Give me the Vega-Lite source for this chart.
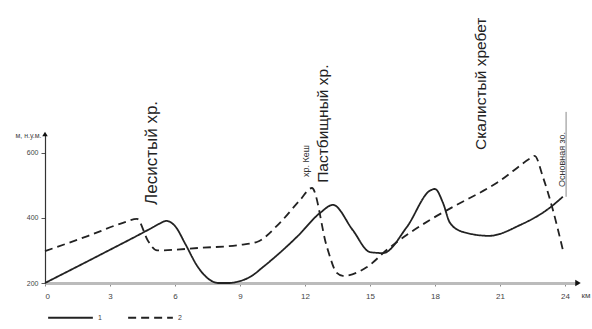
{
  "$schema": "https://vega.github.io/schema/vega-lite/v6.json",
  "autosize": "none",
  "width": 533,
  "height": 149,
  "padding": {"left": 45, "top": 134, "right": 14, "bottom": 46},
  "background": "white",
  "config": {"font": "Liberation Sans", "view": {"stroke": null}},
  "datasets": {
    "profile": [
      {"km": 0, "m": 200, "series": "1"},
      {"km": 2.5, "m": 285, "series": "1"},
      {"km": 5.0, "m": 372, "series": "1"},
      {"km": 5.3, "m": 383, "series": "1"},
      {"km": 5.6, "m": 391, "series": "1"},
      {"km": 6.0, "m": 375, "series": "1"},
      {"km": 6.5, "m": 317, "series": "1"},
      {"km": 7.0, "m": 255, "series": "1"},
      {"km": 7.5, "m": 215, "series": "1"},
      {"km": 8.0, "m": 200, "series": "1"},
      {"km": 8.5, "m": 200, "series": "1"},
      {"km": 9.0, "m": 206, "series": "1"},
      {"km": 9.5, "m": 220, "series": "1"},
      {"km": 10.06, "m": 249, "series": "1"},
      {"km": 11.63, "m": 342, "series": "1"},
      {"km": 12.69, "m": 415, "series": "1"},
      {"km": 13.29, "m": 440, "series": "1"},
      {"km": 14.2, "m": 363, "series": "1"},
      {"km": 15.0, "m": 295, "series": "1"},
      {"km": 15.6, "m": 292, "series": "1"},
      {"km": 16.7, "m": 372, "series": "1"},
      {"km": 17.77, "m": 484, "series": "1"},
      {"km": 18.0, "m": 489, "series": "1"},
      {"km": 18.37, "m": 446, "series": "1"},
      {"km": 18.69, "m": 385, "series": "1"},
      {"km": 19.29, "m": 357, "series": "1"},
      {"km": 20.5, "m": 345, "series": "1"},
      {"km": 21.92, "m": 378, "series": "1"},
      {"km": 23.17, "m": 425, "series": "1"},
      {"km": 23.9, "m": 465, "series": "1"},
      {"km": 0, "m": 298, "series": "2"},
      {"km": 2.0, "m": 345, "series": "2"},
      {"km": 3.6, "m": 385, "series": "2"},
      {"km": 4.25, "m": 397, "series": "2"},
      {"km": 4.75, "m": 330, "series": "2"},
      {"km": 5.17, "m": 300, "series": "2"},
      {"km": 7.15, "m": 308, "series": "2"},
      {"km": 9.0, "m": 317, "series": "2"},
      {"km": 9.78, "m": 326, "series": "2"},
      {"km": 10.84, "m": 385, "series": "2"},
      {"km": 11.77, "m": 455, "series": "2"},
      {"km": 12.32, "m": 492, "series": "2"},
      {"km": 13.01, "m": 311, "series": "2"},
      {"km": 13.47, "m": 231, "series": "2"},
      {"km": 13.75, "m": 222, "series": "2"},
      {"km": 14.86, "m": 249, "series": "2"},
      {"km": 15.78, "m": 302, "series": "2"},
      {"km": 17.77, "m": 394, "series": "2"},
      {"km": 18.83, "m": 434, "series": "2"},
      {"km": 20.86, "m": 508, "series": "2"},
      {"km": 22.52, "m": 588, "series": "2"},
      {"km": 22.6, "m": 591, "series": "2"},
      {"km": 22.98, "m": 526, "series": "2"},
      {"km": 23.44, "m": 425, "series": "2"},
      {"km": 23.9, "m": 302, "series": "2"}
    ],
    "ridgeLabel": [
      {"km": 4.94, "m": 440, "label": "Лесистый хр."}
    ],
    "bigLabels": [
      {"km": 12.83, "m": 508, "label": "Пастбищный хр."},
      {"km": 20.12, "m": 609, "label": "Скалистый хребет"}
    ],
    "smallLabels": [
      {"km": 12.04, "m": 526, "label": "хр. Кеш"},
      {"km": 23.85, "m": 495, "label": "Основная зо."}
    ],
    "boundary": [{"km": 24.05, "m": 465, "m2": 726}],
    "arrows": [
      {"km": 24.6, "m": 200, "dir": "x"},
      {"km": 0, "m": 658, "dir": "y"}
    ]
  },
  "layer": [
    {
      "data": {"name": "profile"},
      "mark": {"type": "line", "interpolate": "monotone", "strokeWidth": 1.8, "color": "#222"},
      "encoding": {
        "x": {
          "field": "km", "type": "quantitative",
          "scale": {"domain": [0, 24.6], "nice": false, "zero": false},
          "axis": {
            "values": [0, 3, 6, 9, 12, 15, 18, 21, 24],
            "grid": false,
            "domainColor": "#bbb", "domainWidth": 3,
            "tickColor": "#888", "tickSize": 3,
            "labelFontSize": 8, "labelColor": "#444", "labelPadding": 6,
            "title": "км", "titleFontSize": 8, "titleFontWeight": "normal", "titleColor": "#444",
            "titleX": 536, "titleY": 12, "titleAlign": "left", "titleBaseline": "middle"
          }
        },
        "y": {
          "field": "m", "type": "quantitative",
          "scale": {"domain": [200, 658], "nice": false, "zero": false},
          "axis": {
            "values": [200, 400, 600],
            "grid": false,
            "domainColor": "#333", "domainWidth": 1.2,
            "tickColor": "#555", "tickSize": 4,
            "labelFontSize": 7, "labelColor": "#444", "labelPadding": 3,
            "title": "м, н.у.м.", "titleFontSize": 7, "titleFontWeight": "normal", "titleColor": "#444",
            "titleAngle": 0, "titleX": -4, "titleY": 1, "titleAlign": "right", "titleBaseline": "middle"
          }
        },
        "strokeDash": {
          "field": "series", "type": "nominal",
          "scale": {"domain": ["1", "2"], "range": [[1, 0], [8, 5]]},
          "legend": {
            "orient": "none", "legendX": 2, "legendY": 160,
            "direction": "horizontal", "title": null,
            "symbolType": "stroke", "symbolSize": 2000,
            "symbolStrokeColor": "#222", "symbolStrokeWidth": 2,
            "labelFontSize": 7, "labelColor": "#444",
            "columnPadding": 22, "labelOffset": 4
          }
        }
      }
    },
    {
      "data": {"name": "boundary"},
      "mark": {"type": "rule", "color": "#888", "strokeWidth": 1},
      "encoding": {
        "x": {"field": "km", "type": "quantitative"},
        "y": {"field": "m", "type": "quantitative"},
        "y2": {"field": "m2"}
      }
    },
    {
      "data": {"name": "arrows"},
      "transform": [{"filter": "datum.dir === 'x'"}],
      "mark": {"type": "point", "shape": "triangle-right", "filled": true, "color": "#111", "size": 40, "opacity": 1},
      "encoding": {
        "x": {"field": "km", "type": "quantitative"},
        "y": {"field": "m", "type": "quantitative"}
      }
    },
    {
      "data": {"name": "arrows"},
      "transform": [{"filter": "datum.dir === 'y'"}],
      "mark": {"type": "point", "shape": "triangle-up", "filled": true, "color": "#111", "size": 30, "opacity": 1},
      "encoding": {
        "x": {"field": "km", "type": "quantitative"},
        "y": {"field": "m", "type": "quantitative"}
      }
    },
    {
      "data": {"name": "ridgeLabel"},
      "mark": {"type": "text", "angle": 270, "align": "left", "baseline": "middle", "fontSize": 17, "color": "#222"},
      "encoding": {
        "x": {"field": "km", "type": "quantitative"},
        "y": {"field": "m", "type": "quantitative"},
        "text": {"field": "label"}
      }
    },
    {
      "data": {"name": "bigLabels"},
      "mark": {"type": "text", "angle": 270, "align": "left", "baseline": "middle", "fontSize": 15.5, "color": "#222"},
      "encoding": {
        "x": {"field": "km", "type": "quantitative"},
        "y": {"field": "m", "type": "quantitative"},
        "text": {"field": "label"}
      }
    },
    {
      "data": {"name": "smallLabels"},
      "mark": {"type": "text", "angle": 270, "align": "left", "baseline": "middle", "fontSize": 9, "color": "#333"},
      "encoding": {
        "x": {"field": "km", "type": "quantitative"},
        "y": {"field": "m", "type": "quantitative"},
        "text": {"field": "label"}
      }
    }
  ]
}
